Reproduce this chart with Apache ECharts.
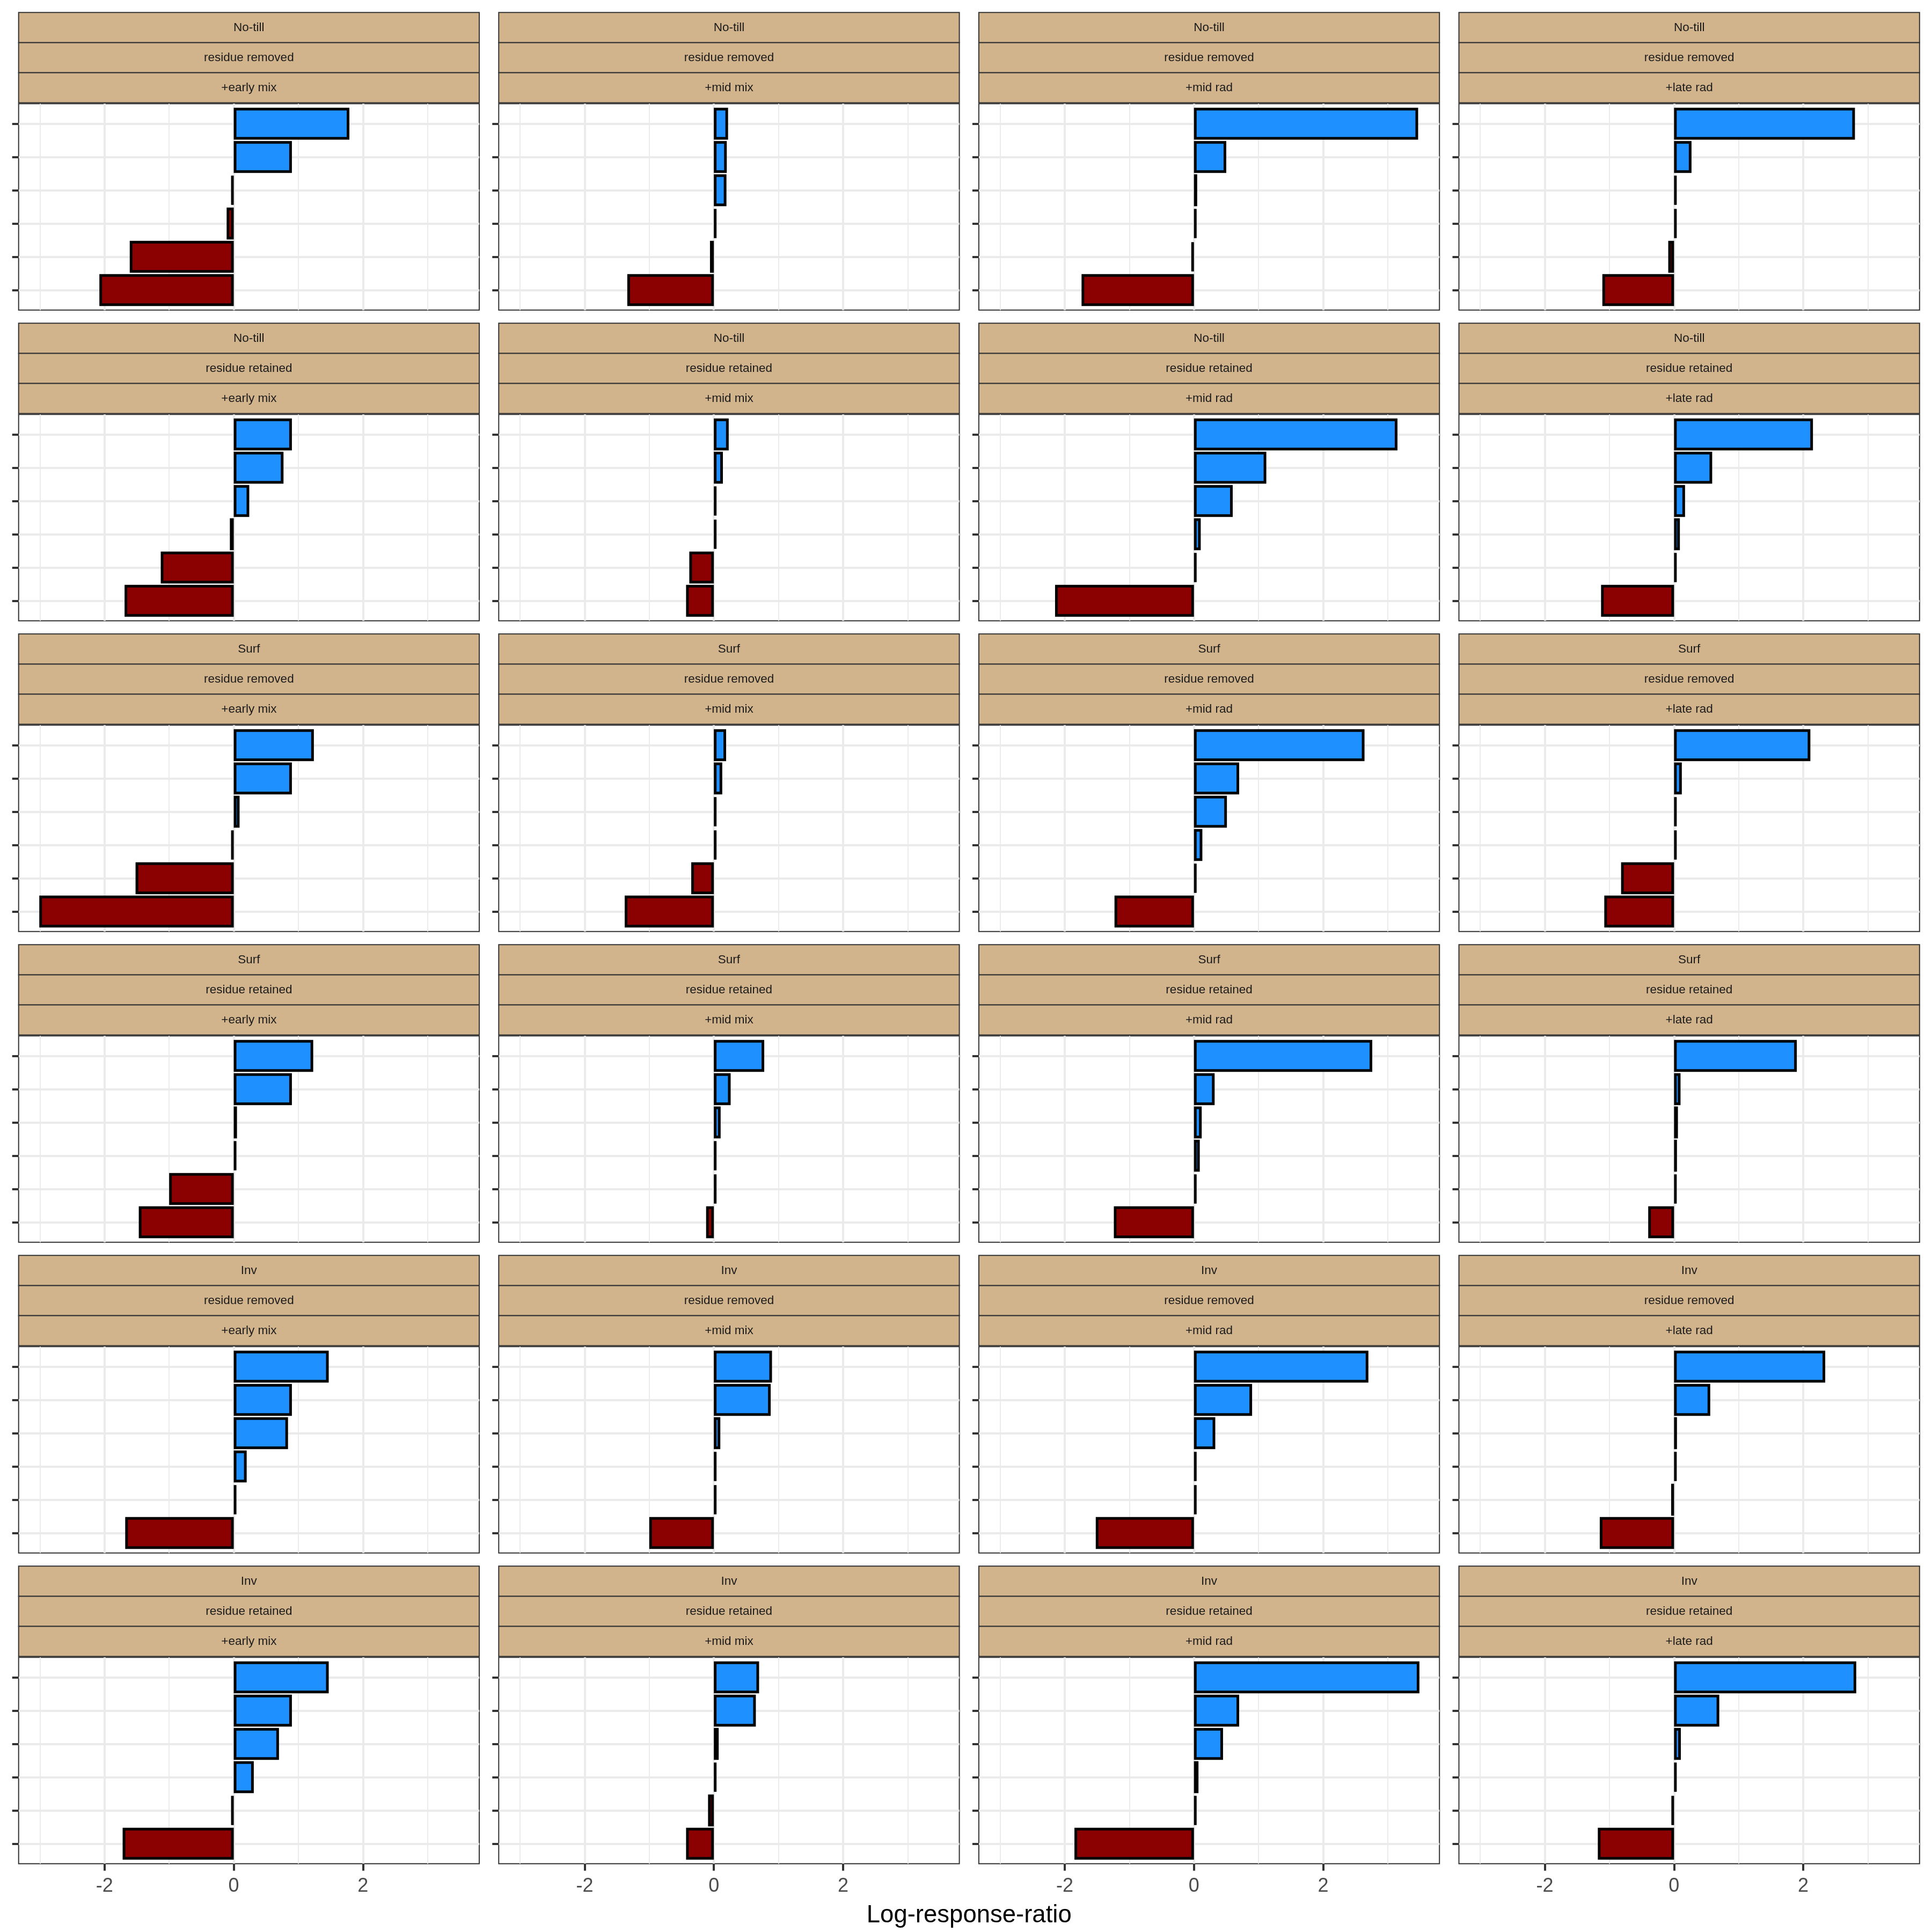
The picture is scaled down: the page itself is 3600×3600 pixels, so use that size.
<!DOCTYPE html>
<html>
<head>
<meta charset="utf-8">
<script src="https://cdn.jsdelivr.net/npm/echarts@6/dist/echarts.min.js"></script>
<style>
html,body{margin:0;padding:0;background:#ffffff;}
#chart{width:3600px;height:3600px;}
</style>
</head>
<body>
<div id="chart"></div>
<script>
// ---------------- data ----------------
const tillage = ['No-till', 'No-till', 'Surf', 'Surf', 'Inv', 'Inv'];
const residue = ['residue removed', 'residue retained', 'residue removed', 'residue retained', 'residue removed', 'residue retained'];
const timing = ['+early mix', '+mid mix', '+mid rad', '+late rad'];
const barRank = ['1', '2', '3', '4', '5', '6'];
const xTicks = [-2, 0, 2];
const xMinorTicks = [-3, -1, 1, 3];
const xTitle = 'Log-response-ratio';

// one array of 6 sorted log-response-ratios per timing column
const noTillRemoved = [
  [1.79, 0.90, -0.015, -0.11, -1.61, -2.08],
  [0.22, 0.20, 0.195, 0.004, -0.06, -1.34],
  [3.47, 0.50, 0.05, 0.005, -0.04, -1.74],
  [2.80, 0.27, 0.005, 0.003, -0.09, -1.11]
];
const noTillRetained = [
  [0.90, 0.77, 0.24, -0.06, -1.13, -1.69],
  [0.23, 0.14, 0.03, 0.004, -0.38, -0.43],
  [3.15, 1.12, 0.60, 0.105, 0.004, -2.15],
  [2.15, 0.59, 0.17, 0.09, 0.004, -1.13]
];
const surfRemoved = [
  [1.24, 0.90, 0.09, -0.02, -1.52, -3.01],
  [0.19, 0.13, 0.035, 0.004, -0.35, -1.38],
  [2.64, 0.70, 0.51, 0.13, 0.004, -1.23],
  [2.11, 0.12, 0.03, 0.004, -0.82, -1.08]
];
const surfRetained = [
  [1.23, 0.90, 0.05, 0.004, -1.00, -1.47],
  [0.78, 0.26, 0.105, 0.035, 0.004, -0.12],
  [2.76, 0.32, 0.12, 0.09, 0.004, -1.24],
  [1.90, 0.10, 0.06, 0.045, 0.004, -0.40]
];
const invRemoved = [
  [1.47, 0.90, 0.84, 0.20, 0.04, -1.68],
  [0.90, 0.88, 0.10, 0.004, 0.002, -1.00],
  [2.70, 0.90, 0.33, 0.006, 0.004, -1.52],
  [2.34, 0.56, 0.045, 0.004, -0.045, -1.15]
];
const invRetained = [
  [1.47, 0.90, 0.70, 0.31, -0.02, -1.72],
  [0.70, 0.65, 0.075, 0.003, -0.09, -0.43],
  [3.49, 0.70, 0.45, 0.07, 0.004, -1.85],
  [2.82, 0.70, 0.105, 0.004, -0.025, -1.18]
];
const panelRows = [noTillRemoved, noTillRetained, surfRemoved, surfRetained, invRemoved, invRetained];

// ---------------- layout / style ----------------
const X_MIN = -3.33, X_MAX = 3.80;
const Y_EXPAND = 0.6;               // discrete axis expansion (ggplot)
const LEFT0 = 34.7, COL_STEP = 894.6, PANEL_W = 858.3;
const TOP0 = 23.3, ROW_STEP = 579.0, STRIP_H = 56.1, PANEL_OFF = 170.0, PANEL_H = 384.4;
const POS_COLOR = '#1E90FF', NEG_COLOR = '#8B0000';
const GRID_COLOR = '#EBEBEB', DARK = '#333333';
const FONT = '"Liberation Sans", Arial, Helvetica, sans-serif';

const grid = [], xAxis = [], yAxis = [], series = [], graphic = [];
const nCat = barRank.length;
const yTickPos = barRank.map((_, i) => i + 1);

panelRows.forEach((rowData, r) => {
  rowData.forEach((vals, c) => {
    const left = LEFT0 + c * COL_STEP;
    const top = TOP0 + r * ROW_STEP;
    const pTop = top + PANEL_OFF;
    const band = PANEL_H / (nCat - 1 + 2 * Y_EXPAND);
    const isBottom = r === panelRows.length - 1;

    // outer grid: border, gridlines, ticks
    const gOuter = grid.length;
    grid.push({left: left, top: pTop, width: PANEL_W, height: PANEL_H,
      show: true, borderColor: DARK, borderWidth: 2, backgroundColor: 'transparent'});
    // inner grid: bars on category axis
    const gInner = grid.length;
    grid.push({left: left, top: pTop + (Y_EXPAND - 0.5) * band, width: PANEL_W, height: nCat * band, show: false});

    // major x axis
    xAxis.push({type: 'value', gridIndex: gOuter, min: X_MIN, max: X_MAX, position: 'bottom',
      axisLine: {show: false, onZero: false},
      axisTick: {show: isBottom, customValues: xTicks, length: 13, lineStyle: {color: DARK, width: 4}},
      axisLabel: {show: isBottom, customValues: xTicks, fontSize: 36, color: '#4D4D4D', margin: 24, fontFamily: FONT},
      splitLine: {show: true, lineStyle: {color: GRID_COLOR, width: 4}}
    });
    // minor x axis
    xAxis.push({type: 'value', gridIndex: gOuter, min: X_MIN, max: X_MAX, position: 'top',
      axisLine: {show: false, onZero: false},
      axisTick: {show: false, customValues: xMinorTicks},
      axisLabel: {show: false, customValues: xMinorTicks},
      splitLine: {show: true, lineStyle: {color: GRID_COLOR, width: 2}}
    });
    // outer y axis (ticks + horizontal gridlines at category centres)
    yAxis.push({type: 'value', gridIndex: gOuter, min: 1 - Y_EXPAND, max: nCat + Y_EXPAND, inverse: true,
      position: 'left',
      axisLine: {show: false, onZero: false},
      axisTick: {show: true, customValues: yTickPos, length: 12, lineStyle: {color: DARK, width: 4}},
      axisLabel: {show: false, customValues: yTickPos},
      splitLine: {show: true, lineStyle: {color: GRID_COLOR, width: 4}}
    });

    // inner axes
    const xi = xAxis.length;
    xAxis.push({type: 'value', gridIndex: gInner, min: X_MIN, max: X_MAX, show: false});
    const yi = yAxis.length;
    yAxis.push({type: 'category', gridIndex: gInner, data: barRank, inverse: true, show: false});

    series.push({
      type: 'bar', xAxisIndex: xi, yAxisIndex: yi,
      data: vals.map(v => ({value: v, itemStyle: {color: v >= 0 ? POS_COLOR : NEG_COLOR}})),
      barWidth: '96%', barMinHeight: 5,
      itemStyle: {borderColor: '#000000', borderWidth: 5},
      silent: true, animation: false, z: 5
    });

    // facet strips
    const labels = [tillage[r], residue[r], timing[c]];
    labels.forEach((txt, k) => {
      const sy = top + k * STRIP_H;
      graphic.push({type: 'rect', silent: true, z: 10,
        shape: {x: left, y: sy, width: PANEL_W, height: STRIP_H},
        style: {fill: '#D2B48C', stroke: DARK, lineWidth: 2}});
      graphic.push({type: 'text', silent: true, z: 11, x: left + PANEL_W / 2, y: sy + STRIP_H / 2,
        style: {text: txt, fill: '#1A1A1A', font: '22.5px ' + FONT,
          align: 'center', verticalAlign: 'middle', textAlign: 'center', textVerticalAlign: 'middle'}});
    });
  });
});

// x axis title
graphic.push({type: 'text', silent: true, z: 11, x: LEFT0 + (3 * COL_STEP + PANEL_W) / 2, y: 3569,
  style: {text: xTitle, fill: '#000000', font: '45.5px ' + FONT,
    align: 'center', verticalAlign: 'middle', textAlign: 'center', textVerticalAlign: 'middle'}});

const chart = echarts.init(document.getElementById('chart'), null, {renderer: 'canvas', width: 3600, height: 3600});
chart.setOption({
  backgroundColor: '#ffffff',
  animation: false,
  grid: grid,
  xAxis: xAxis,
  yAxis: yAxis,
  series: series,
  graphic: graphic
});
</script>
</body>
</html>
